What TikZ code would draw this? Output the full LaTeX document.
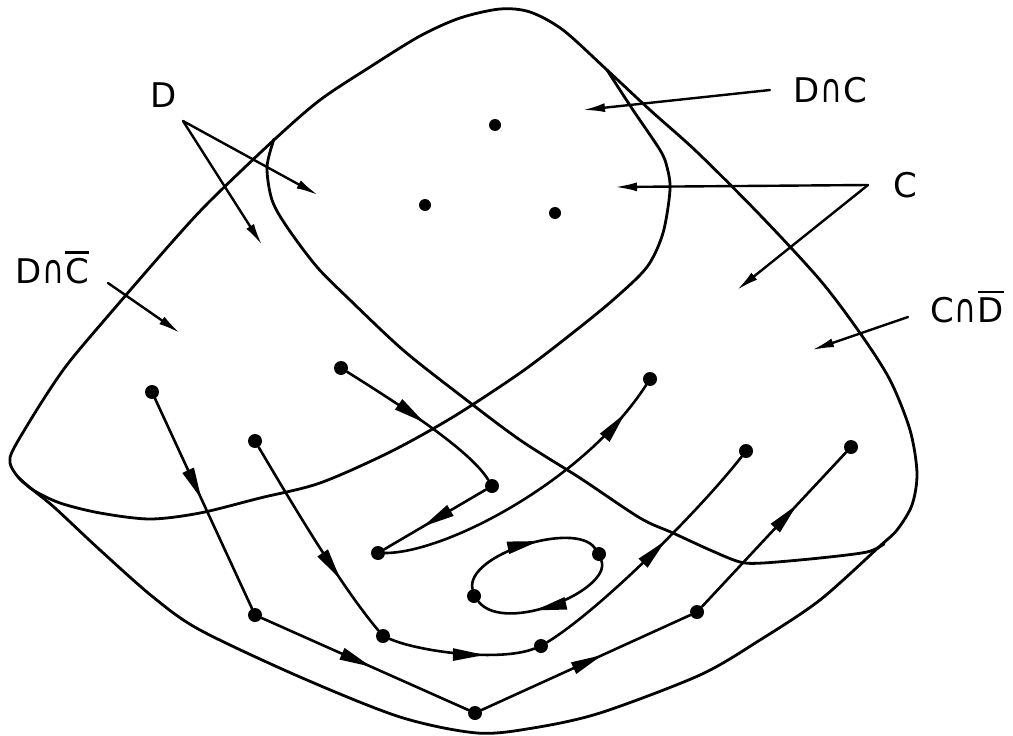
\documentclass[tikz,border=0pt]{standalone}
\usepackage{fontspec}
\usepackage{graphicx}
\setmainfont{DejaVu Sans}
\usetikzlibrary{arrows.meta,decorations.markings}
\newcommand{\ovl}[1]{\vbox{\hrule height 2.4pt\kern 4pt\hbox{#1}}}
\newcommand{\capp}{\kern1pt\scalebox{0.75}[1]{\fontsize{40}{40}\selectfont ∩}\kern1pt}
\begin{document}
\begin{tikzpicture}[x=1pt,y=-1pt,line cap=round,line join=round,
  curve/.style={line width=2.8pt},
  flow/.style={line width=2.6pt},
  dot/.style={circle,fill,inner sep=0pt,minimum size=14pt},
  sdot/.style={circle,fill,inner sep=0pt,minimum size=12pt},
  mid/.style={postaction={decorate},decoration={markings,mark=at position #1 with {\arrow{Triangle[length=32pt,width=12pt]}}}},
  ptr/.style={line width=2.4pt,-{Latex[length=22pt,width=9pt]}},
  lbl/.style={font=\fontsize{34}{40}\selectfont,inner sep=0pt,anchor=base west}]
\useasboundingbox[fill=white] (0,0) rectangle (1013,736);

% outer contour
\draw[curve] plot[smooth cycle,tension=0.5] coordinates {
 (10,463) (14,448) (43,400) (70,361) (120,302) (173,241) (210,201) (275,139)
 (320,100) (370,67) (420,36) (460,18) (500,9) (530,12) (563,30) (607,70)
 (650,110) (697,152) (760,215) (820,280) (860,333) (890,380) (910,430)
 (917,473) (912,505) (897,530) (880,546) (820,600) (760,640) (700,675)
 (600,713) (533,728) (477,733) (400,717) (300,677) (200,630) (153,597)
 (100,550) (55,508) (33,490) (18,477)};

% D lower / right boundary
\draw[curve] plot[smooth,tension=0.5] coordinates {
 (18,477) (33,490) (60,503) (100,513) (150,519) (200,513) (260,498) (320,483)
 (390,452) (453,417) (520,373) (570,335) (613,300) (647,267) (663,233)
 (670,190) (667,167) (660,150) (633,110) (607,70)};

% C left / bottom boundary
\draw[curve] plot[smooth,tension=0.5] coordinates {
 (274,139) (267,167) (272,200) (287,227) (317,267) (350,300) (403,350)
 (460,395) (520,440) (580,478) (640,518) (673,533) (710,550) (740,562)
 (763,563) (820,558) (867,552) (884,544)};

% dots in D cap C
\node[sdot] (b1) at (495,125) {};
\node[sdot] (b2) at (425,205) {};
\node[sdot] (b3) at (555,213) {};

% flow dots
\node[dot] (p1) at (152,392) {};
\node[dot] (p2) at (255,615) {};
\node[dot] (p3) at (475,713) {};
\node[dot] (p4) at (697,612) {};
\node[dot] (p5) at (851,447) {};
\node[dot] (q1) at (255,441) {};
\node[dot] (q2) at (383,636) {};
\node[dot] (q3) at (541,646) {};
\node[dot] (q4) at (746,451) {};
\node[dot] (r1) at (341,368) {};
\node[dot] (r2) at (492,486) {};
\node[dot] (r3) at (378,553) {};
\node[dot] (r4) at (650,379) {};
\node[dot] (e1) at (474,596) {};
\node[dot] (e2) at (599,554) {};

% flows
\draw[flow,mid=0.48] (p1) -- (p2);
\draw[flow,mid=0.53] (p2) -- (p3);
\draw[flow,mid=0.58] (p3) -- (p4);
\draw[flow,mid=0.66] (p4) -- (p5);
\draw[flow,mid=0.71] (q1) .. controls (290,500) and (340,585) .. (q2);
\draw[flow,mid=0.66] (q2) .. controls (420,652) and (500,662) .. (q3);
\draw[flow,mid=0.58] (q3) .. controls (600,610) and (700,510) .. (q4);
\draw[flow,mid=0.52] (r1) .. controls (400,405) and (470,450) .. (r2);
\draw[flow,mid=0.62] (r2) -- (r3);
\draw[flow,mid=0.89] (r3) .. controls (446,553) and (585,480) .. (r4);
\draw[flow,mid=0.6] (e1) .. controls (465,555) and (575,520) .. (e2);
\draw[flow,mid=0.6] (e2) .. controls (612,590) and (505,635) .. (e1);

% labels
\node[lbl] (LD) at (150,107) {D};
\node[lbl] (LDnCb) at (15,283) {D\capp\ovl{C}};
\node[lbl] (LDnC) at (793,102) {D\capp C};
\node[lbl] (LC) at (893,197) {C};
\node[lbl] (LCnDb) at (930,322) {C\capp\ovl{D}};

% pointer arrows
\coordinate (dA) at (183,121);
\coordinate (dT1) at (318,195);
\coordinate (dT2) at (262,245);
\coordinate (dcA) at (108,283);
\coordinate (dcT) at (180,333);
\coordinate (ncA) at (770,90);
\coordinate (ncT) at (583,110);
\coordinate (cA) at (868,185);
\coordinate (cT1) at (615,187);
\coordinate (cT2) at (737,290);
\coordinate (cdA) at (908,317);
\coordinate (cdT) at (812,350);
\draw[ptr] (dA) -- (dT1);
\draw[ptr] (dA) -- (dT2);
\draw[ptr] (dcA) -- (dcT);
\draw[ptr] (ncA) -- (ncT);
\draw[ptr] (cA) -- (cT1);
\draw[ptr] (cA) -- (cT2);
\draw[ptr] (cdA) -- (cdT);
\end{tikzpicture}
\end{document}
